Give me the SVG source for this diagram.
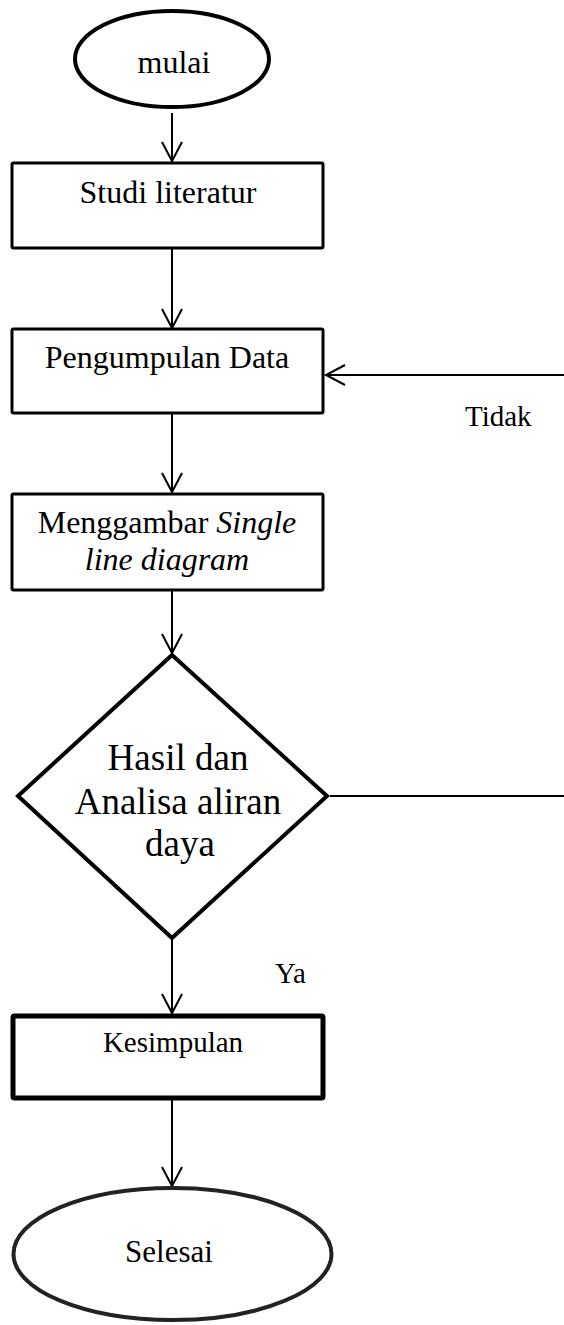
<svg xmlns="http://www.w3.org/2000/svg" width="564" height="1325" viewBox="0 0 564 1325">
  <style>
    .bg { fill: #ffffff; }
    .box { fill: #ffffff; stroke: #000000; stroke-width: 3; stroke-linejoin: round; }
    .box-heavy { fill: #ffffff; stroke: #000000; stroke-width: 5; stroke-linejoin: round; }
    .term { fill: #ffffff; stroke: #000000; stroke-width: 4; }
    .term-end { fill: #ffffff; stroke: #222222; stroke-width: 4; }
    .decision { fill: #ffffff; stroke: #000000; stroke-width: 4; stroke-linejoin: miter; }
    .edge { fill: none; stroke: #000000; stroke-width: 2; }
    .label { font-family: "Liberation Serif", "Times New Roman", serif; fill: #000000; text-anchor: middle; }
    .note { font-family: "Liberation Serif", "Times New Roman", serif; fill: #000000; font-size: 29px; }
    .it { font-style: italic; }
  </style>
  <defs>
    <marker id="open-arrow" markerUnits="userSpaceOnUse" markerWidth="24" markerHeight="24" viewBox="-21 -12 24 24" refX="0" refY="0" orient="auto">
      <path d="M-19,-10 L0,0 L-19,10" fill="none" stroke="#000000" stroke-width="2"/>
    </marker>
  </defs>

  <rect class="bg" x="0" y="0" width="564" height="1325"/>

  <!-- connectors -->
  <g id="connectors">
    <line class="edge" x1="172" y1="113" x2="172" y2="161" marker-end="url(#open-arrow)"/>
    <line class="edge" x1="172" y1="248" x2="172" y2="328" marker-end="url(#open-arrow)"/>
    <line class="edge" x1="172" y1="413" x2="172" y2="492" marker-end="url(#open-arrow)"/>
    <line class="edge" x1="172" y1="590" x2="172" y2="653" marker-end="url(#open-arrow)"/>
    <line class="edge" x1="172" y1="939" x2="172" y2="1013" marker-end="url(#open-arrow)"/>
    <line class="edge" x1="172" y1="1098" x2="172" y2="1186" marker-end="url(#open-arrow)"/>
    <!-- "Tidak" loop back into data collection -->
    <line class="edge" x1="330" y1="796" x2="564" y2="796"/>
    <line class="edge" x1="564" y1="375" x2="326" y2="375" marker-end="url(#open-arrow)"/>
    <text class="note" x="465" y="426">Tidak</text>
    <text class="note" x="275" y="983">Ya</text>
  </g>

  <g id="start">
    <ellipse class="term" cx="172" cy="59" rx="97" ry="48"/>
    <text class="label" x="174" y="73" font-size="32">mulai</text>
  </g>

  <g id="studi-literatur">
    <rect class="box" x="12" y="163" width="311" height="85" rx="1.5"/>
    <text class="label" x="168" y="203" font-size="32">Studi literatur</text>
  </g>

  <g id="pengumpulan-data">
    <rect class="box" x="12" y="329" width="311" height="84" rx="1.5"/>
    <text class="label" x="167" y="368" font-size="32">Pengumpulan Data</text>
  </g>

  <g id="single-line-diagram">
    <rect class="box" x="12" y="494" width="311" height="96" rx="1.5"/>
    <text class="label" x="167" y="533" font-size="32">Menggambar <tspan class="it">Single</tspan></text>
    <text class="label it" x="167" y="570" font-size="32">line diagram</text>
  </g>

  <g id="analisa-aliran-daya">
    <polygon class="decision" points="172,655 327,796 172,938 18,796"/>
    <text class="label" x="178" y="770" font-size="37">Hasil dan</text>
    <text class="label" x="178" y="814" font-size="37">Analisa aliran</text>
    <text class="label" x="180" y="856" font-size="37">daya</text>
  </g>

  <g id="kesimpulan">
    <rect class="box-heavy" x="13" y="1016" width="310" height="82" rx="1.5"/>
    <text class="label" x="173" y="1052" font-size="29">Kesimpulan</text>
  </g>

  <g id="selesai">
    <ellipse class="term-end" cx="172.5" cy="1254" rx="159" ry="66"/>
    <text class="label" x="169" y="1262" font-size="31">Selesai</text>
  </g>
</svg>
